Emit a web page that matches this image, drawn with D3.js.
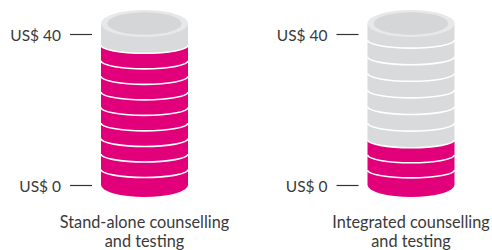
<!DOCTYPE html>
<html>
<head>
<meta charset="utf-8">
<script src="https://cdn.jsdelivr.net/npm/d3@7"></script>
<style>
  html, body { margin: 0; padding: 0; background: #ffffff; }
  svg { display: block; }
  text { font-family: Lato, "Open Sans", sans-serif; fill: #3a3a3a; font-weight: 400; }
</style>
</head>
<body>
<svg id="chart" width="492" height="250"></svg>
<script>
// ---- data ----
const categories = ["Stand-alone counselling and testing", "Integrated counselling and testing"];
const labelLines = [["Stand-alone counselling", "and testing"], ["Integrated counselling", "and testing"]];
const costs = [37, 12];          // US$ per client (pink part of stack)
const pinkCoins = [9, 3];        // number of pink coins in each stack
const totalCoins = [10, 10];     // total coins in each stack
const tickValues = [0, 40];
const tickLabels = ["US$ 0", "US$ 40"];

// ---- styles ----
const PINK = "#e2007a";
const GREY = "#d9dadb";
const RIM = "#e7e8e9";
const FACE = "#d5d6d7";

const svg = d3.select("#chart");

const x = d3.scalePoint().domain(categories).range([144.5, 411]);
const y = d3.scaleLinear().domain([0, 40]).range([185, 34]);

const rx = 43.5;
const rySep = 8;
const ryBottom = 12;
const topLip = 10.5;
const ryTop = 13.5;

categories.forEach((cat, i) => {
  const cx = x(cat);
  const l = cx - rx, r = cx + rx;
  const g = svg.append("g");

  const yBase = y(0), yCost = y(costs[i]), yTop = y(40) - topLip;
  const nP = pinkCoins[i], nG = totalCoins[i] - pinkCoins[i];
  const coins = [];
  for (let k = 0; k < nP; k++) {
    coins.push({ y0: yBase + (yCost - yBase) * k / nP, y1: yBase + (yCost - yBase) * (k + 1) / nP, color: PINK });
  }
  for (let k = 0; k < nG; k++) {
    coins.push({ y0: yCost + (yTop - yCost) * k / nG, y1: yCost + (yTop - yCost) * (k + 1) / nG, color: GREY });
  }
  coins.forEach((c, k) => { c.ry = k === 0 ? ryBottom : rySep; c.bottom = k === 0; });

  g.selectAll("path.coin").data(coins).join("path")
    .attr("class", "coin")
    .attr("fill", d => d.color)
    .attr("d", d => `M${l},${d.y1}L${r},${d.y1}L${r},${d.y0}A${rx},${d.ry} 0 0 1 ${l},${d.y0}Z`);

  g.selectAll("path.sep").data(coins.filter(d => !d.bottom)).join("path")
    .attr("class", "sep")
    .attr("fill", "none")
    .attr("stroke", "#ffffff")
    .attr("stroke-width", 1.6)
    .attr("d", d => `M${r},${d.y0}A${rx},${d.ry} 0 0 1 ${l},${d.y0}`);

  g.append("ellipse").attr("cx", cx).attr("cy", yTop).attr("rx", rx).attr("ry", ryTop).attr("fill", RIM);
  g.append("ellipse").attr("cx", cx).attr("cy", yTop).attr("rx", rx - 6.3).attr("ry", ryTop - 2.3).attr("fill", FACE);

  const axis = d3.axisLeft(y)
    .tickValues(tickValues)
    .tickFormat((d, j) => tickLabels[j])
    .tickSize(22)
    .tickPadding(9);
  const ag = svg.append("g").attr("transform", `translate(${l - 9},0)`).call(axis);
  ag.select(".domain").remove();
  ag.selectAll(".tick line").attr("stroke", "#333333").attr("stroke-width", 1.2);
  ag.selectAll(".tick text")
    .attr("fill", "#3a3a3a")
    .attr("dy", "0.42em")
    .style("font-family", "Lato, 'Open Sans', sans-serif")
    .style("font-size", "15.5px");

  const t = svg.append("text")
    .attr("x", cx)
    .attr("text-anchor", "middle")
    .style("font-size", "16.3px");
  labelLines[i].forEach((line, j) => {
    t.append("tspan").attr("x", cx).attr("y", 228 + j * 18.5).text(line);
  });
});
</script>
</body>
</html>
